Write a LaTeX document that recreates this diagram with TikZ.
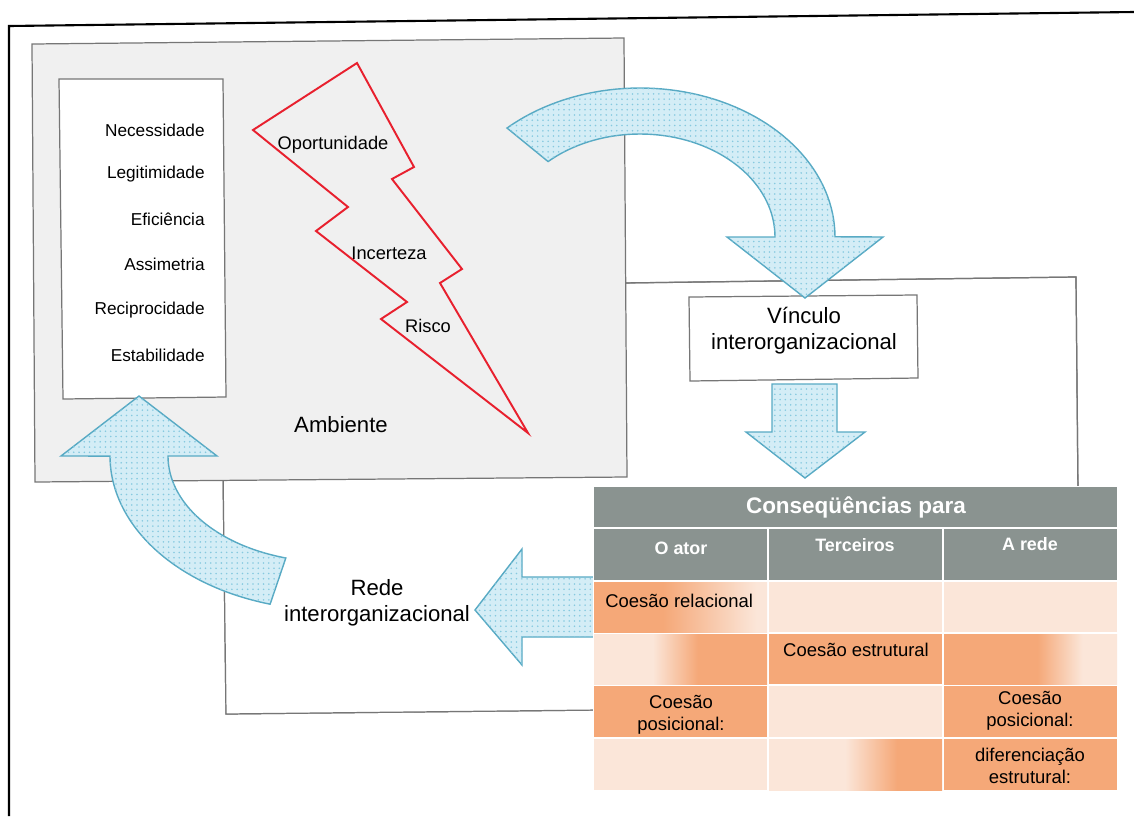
\documentclass[tikz,border=0pt]{standalone}
\usepackage{fontspec}
\setmainfont{Liberation Sans}
\usetikzlibrary{patterns}

\definecolor{arrowfill}{HTML}{D4EDF6}
\definecolor{arrowdot}{HTML}{86C9DF}
\definecolor{arrowline}{HTML}{58AAC4}
\definecolor{boxline}{HTML}{767676}
\definecolor{ambfill}{HTML}{F0F0F0}
\definecolor{boltred}{HTML}{E8202E}
\definecolor{hdrgray}{HTML}{8A9390}
\definecolor{orng}{HTML}{F5A878}
\definecolor{peach}{HTML}{FBE6D9}

% horizontal shadings for the table cells (path spans 25bp..75bp)
\pgfdeclarehorizontalshading{orangefade}{100bp}{color(0bp)=(orng); color(25bp)=(orng); color(45bp)=(orng); color(72bp)=(peach); color(100bp)=(peach)}
\pgfdeclarehorizontalshading{peachrise}{100bp}{color(0bp)=(peach); color(25bp)=(peach); color(42bp)=(peach); color(55bp)=(orng); color(100bp)=(orng)}
\pgfdeclarehorizontalshading{orangeend}{100bp}{color(0bp)=(orng); color(25bp)=(orng); color(52bp)=(orng); color(65bp)=(peach); color(100bp)=(peach)}
\pgfdeclarehorizontalshading{peachlate}{100bp}{color(0bp)=(peach); color(25bp)=(peach); color(47bp)=(peach); color(62bp)=(orng); color(100bp)=(orng)}

\begin{document}
\begin{tikzpicture}[x=0.02cm,y=-0.02cm,
  frame/.style={line width=1.2pt,black},
  panel/.style={draw=boxline,line width=0.7pt},
  blockarrow/.style={draw=arrowline,line width=0.8pt,fill=arrowfill,
    postaction={pattern=dots,pattern color=arrowdot}},
  bolt/.style={draw=boltred,line width=1.1pt,line join=miter},
  listitem/.style={anchor=east,inner sep=0pt,font=\fontsize{9.8pt}{12pt}\selectfont},
  boltlabel/.style={inner sep=0pt,font=\fontsize{10.4pt}{12pt}\selectfont},
  biglabel/.style={inner sep=0pt,align=center,font=\fontsize{12.6pt}{14.7pt}\selectfont},
  tabhead/.style={inner sep=0pt,text=white,font=\bfseries\fontsize{12.8pt}{15pt}\selectfont},
  colhead/.style={inner sep=0pt,text=white,font=\bfseries\fontsize{10.2pt}{12pt}\selectfont},
  celltext/.style={inner sep=0pt,align=center,font=\fontsize{10.5pt}{12.5pt}\selectfont}]

\useasboundingbox (0,0) rectangle (1134,816);

% page frame
\draw[frame] (9,816) -- (9,26) -- (1134,12);

% network panel (lower right), partly hidden by the environment panel
\draw[panel,fill=white] (223,470) -- (226,714) -- (600,710) -- (1078,487)
  -- (1076,277) -- (626,283) -- cycle;
\draw[panel,fill=white] (223,470) -- (226,714) -- (600,710);
\draw[panel] (1078,495) -- (1076,277) -- (620,283);

% environment panel
\draw[panel,fill=ambfill] (32,44) -- (624,38) -- (627,477) -- (35,482) -- cycle;

% list of motives
\draw[panel,fill=white] (59,79) -- (223,79) -- (226,397) -- (63,399) -- cycle;
\node[listitem] (nec) at (205,130) {Necessidade};
\node[listitem] (leg) at (205,174) {Legitimidade};
\node[listitem] (efi) at (205,219) {Eficiência};
\node[listitem] (ass) at (205,264) {Assimetria};
\node[listitem] (rec) at (205,310) {Reciprocidade};
\node[listitem] (est) at (205,355) {Estabilidade};

% lightning bolt
\draw[bolt] (357,63) -- (414,167) -- (392,179) -- (462,269) -- (440,283)
  -- (528,433) -- (381,319) -- (407,302) -- (316,231) -- (348,207)
  -- (253,130) -- cycle;
\node[boltlabel] (opo) at (333,145) {Oportunidade};
\node[boltlabel] (inc) at (389,253) {Incerteza};
\node[boltlabel] (ris) at (428,326) {Risco};
\node[biglabel] (amb) at (341,425) {Ambiente};

% link box
\draw[panel,fill=white] (689,297) -- (917,295) -- (918,378) -- (690,381) -- cycle;
\node[biglabel] (vin) at (804,331) {Vínculo\\interorganizacional};

% curved arrow: environment -> link
\draw[blockarrow]
  plot[domain=0:1,samples=60] ({640+195*cos(227+133*\x)},{237+149*sin(227+133*\x)})
  -- (883,237) -- (805,298) -- (727,237) -- (775,237)
  -- plot[domain=0:1,samples=60] ({640+135*cos(360-133*\x)},{237+103*sin(360-133*\x)})
  -- cycle;

% straight arrow: link -> consequences
\draw[blockarrow] (772,384) -- (837,384) -- (837,432) -- (865,432) -- (805,478)
  -- (746,432) -- (772,432) -- cycle;

% arrow: consequences -> network
\draw[blockarrow] (600,577) -- (522,577) -- (522,549) -- (475,610) -- (522,665)
  -- (522,637) -- (600,637);
\node[biglabel] (rede) at (377,603) {Rede\\interorganizacional};

% curved arrow: network -> environment
\draw[blockarrow] (139,396) -- (217,456) -- (168,456)
  -- plot[domain=0:1,samples=50] ({330+162*cos(180-74.2*\x)},{456+106*sin(180-74.2*\x)})
  -- plot[domain=0:1,samples=50] ({330+220*cos(105.8+74.2*\x)},{456+154*sin(105.8+74.2*\x)})
  -- (61,456) -- cycle;

% consequences table
\fill[white] (593,486) rectangle (1118,791);
\fill[hdrgray] (594,487) rectangle (1117,526.5);
\fill[hdrgray] (594,529) rectangle (767,580);
\fill[hdrgray] (769,529) rectangle (942,580);
\fill[hdrgray] (944,529) rectangle (1117,580);
\node[tabhead] (cons) at (856,507) {Conseqüências para};
\node[colhead] (ator) at (681,548) {O ator};
\node[colhead] (terc) at (855,545) {Terceiros};
\node[colhead] (arede) at (1030,544) {A rede};

% row 1
\shade[shading=orangefade] (594,582) rectangle (767,632);
\fill[peach] (769,582) rectangle (942,632);
\fill[peach] (944,582) rectangle (1117,632);
% row 2
\shade[shading=peachrise] (594,634) rectangle (767,684);
\fill[orng] (769,634) rectangle (942,684);
\shade[shading=orangeend] (944,634) rectangle (1117,684);
% row 3
\fill[orng] (594,686) rectangle (767,737);
\fill[peach] (769,686) rectangle (942,737);
\fill[orng] (944,686) rectangle (1117,737);
% row 4
\fill[peach] (594,739) rectangle (767,790);
\shade[shading=peachlate] (769,739) rectangle (942,790);
\fill[orng] (944,739) rectangle (1117,790);

\node[celltext,anchor=west] (crel) at (605,601) {Coesão relacional};
\node[celltext] (cest) at (856,650) {Coesão estrutural};
\node[celltext] (cpos1) at (681,715) {Coesão\\posicional:};
\node[celltext] (cpos3) at (1030,711) {Coesão\\posicional:};
\node[celltext] (dif) at (1030,766) {diferenciação\\estrutural:};

\end{tikzpicture}
\end{document}
